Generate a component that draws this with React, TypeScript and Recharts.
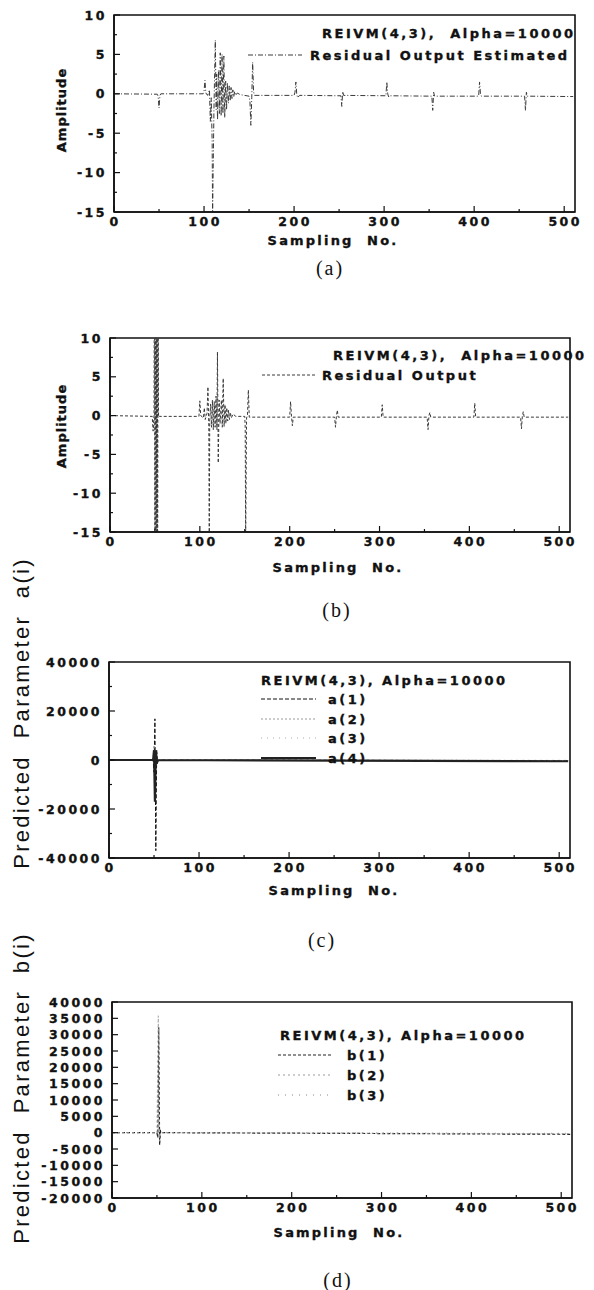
import { LineChart, Line, XAxis, YAxis, ReferenceArea, Legend } from 'recharts';

type Pt = [number, number];

// sample axis (shared by all four panels)
const sampleTicks = [0, 50, 100, 150, 200, 250, 300, 350, 400, 450, 500];
const sampleLabels = [0, 100, 200, 300, 400, 500];

// amplitude axis, panels (a) and (b)
const ampTicks = [-15, -12.5, -10, -7.5, -5, -2.5, 0, 2.5, 5, 7.5, 10];
const ampLabels = [-15, -10, -5, 0, 5, 10];

// parameter axes, panels (c) and (d)
const aTicks = [-40000, -30000, -20000, -10000, 0, 10000, 20000, 30000, 40000];
const aLabels = [-40000, -20000, 0, 20000, 40000];
const bTicks = [-20000, -15000, -10000, -5000, 0, 5000, 10000, 15000, 20000, 25000, 30000, 35000, 40000];

// (a) residual output estimated
const residualEstimated: Pt[] = [
  [0, 0], [48, -0.05], [49, -0.3], [50, -1.8], [51, -0.2], [52, 0], [99, 0], [100, 0.3], [101, 1.7], [102, 0.1],
  [104, -0.2], [106, 0.5], [107, -3.5], [108, -0.5], [109, -6], [109.5, -15.5], [111, -2], [112.5, 6.8], [113.5, -2],
  [114, 2.5], [115, -3.3], [116, 3], [117, -2.5], [118, 5.2], [119, -2.8], [120, 5], [121, -2.5], [122, 4.8],
  [123, -3], [124, 1.6], [125, -2], [126, 1.4], [127, -1.2], [128, 1], [129, -0.9], [130, 0.8], [131, -0.6],
  [132, 0.5], [133, -0.4], [134, 0.3], [135, -0.2], [137, 0.1], [140, -0.1], [145, -0.2], [150, -0.3], [151, -1],
  [152, -4], [153, -0.5], [154, 4], [155, 0.3], [156, -0.2], [200, -0.2], [201, 0.2], [202, 1.5], [203, -0.1],
  [204, -0.5], [206, -0.2], [252, -0.25], [253, -1.6], [254, 0.3], [255, -0.2], [302, -0.25], [303, 1.5], [304, 0],
  [305, -0.4], [306, -0.25], [353, -0.3], [354, -2.1], [355, 0.2], [356, -0.3], [405, -0.3], [406, 1.5], [407, 0],
  [408, -0.3], [456, -0.3], [457, -2.1], [458, 0.2], [459, -0.3], [510, -0.35],
];

// (b) residual output
const residualOutput: Pt[] = [
  [0, 0], [47, -0.1], [48, -2], [49, 0], [49.5, 30], [50, -30], [50.5, 30], [51, -30], [51.5, 30], [52, -30],
  [52.5, 30], [53, -30], [53.5, 30], [54, -0.2], [55, -0.1], [99, -0.1], [100, 1.9], [101, 0], [104, -0.3],
  [105, 1], [106, -0.5], [108, 0.3], [109, 3.7], [110, -1.5], [110.5, -16], [111, -0.5], [112, 1.5], [113, -1.5],
  [114, 2], [115, -1.8], [116, 1.8], [117, -1.5], [118, 2.5], [119, -1.8], [119.6, 8.2], [120.5, -6.1],
  [121.5, 2], [122.5, -1], [124, 2], [125, -1.5], [126, 4.8], [127, -1.4], [128, 1.4], [129, -1], [130, 1],
  [131, -0.7], [132, 0.7], [133, -0.5], [134, 0.4], [135, -0.3], [137, 0.2], [140, -0.1], [150, -0.1],
  [150.5, -1.5], [151, -16], [152, -0.3], [153, 0], [154, 3.3], [155, -0.2], [200, -0.2], [201, 1.8], [202, -0.1],
  [203, -1.3], [204, -0.2], [250, -0.2], [251, -1.5], [252, -0.1], [253, 0.7], [254, -0.2], [302, -0.2],
  [303, 1.4], [304, -0.2], [353, -0.2], [354, -1.8], [355, 0], [356, 0.4], [357, -0.2], [405, -0.2], [406, 1.6],
  [407, -0.2], [457, -0.2], [458, -1.7], [459, 0], [460, 0.5], [461, -0.2], [510, -0.2],
];

// (c) predicted parameters a(i)
const paramA1: Pt[] = [[0, 0], [49, 0], [50, -5000], [51, 16800], [52, -37000], [53, 4000], [54, -1000], [55, 0], [510, -300]];
const paramA2: Pt[] = [[0, 0], [49, 0], [50, 6000], [51, -10000], [52, 3000], [53, 0], [510, -200]];
const paramA3: Pt[] = [[0, 0], [50, 0], [51, -4000], [52, 1500], [53, 0], [510, -100]];
const paramA4: Pt[] = [[0, 0], [49, 0], [50, 4000], [51, -17000], [52, 4000], [53, -1500], [54, 0], [510, -500]];

// (d) predicted parameters b(i)
const paramB1: Pt[] = [[0, 0], [50, 0], [51, -1500], [52, 32300], [53, -3800], [54, 500], [55, 0], [510, -500]];
const paramB2: Pt[] = [[0, 0], [50, 0], [51.5, 35800], [52.5, -1500], [54, 0], [510, -300]];
const paramB3: Pt[] = [[0, 0], [51, 0], [52, 3000], [53, -2000], [54, 0], [510, -200]];

const TM = 6;
const tickFont = {
  fontFamily: 'DejaVu Sans', fontWeight: 700, fontSize: 12.5, letterSpacing: 2.5,
  fill: '#111', stroke: '#111', strokeWidth: 0.35,
};
const legendFont = { ...tickFont, fontSize: 13, whiteSpace: 'pre' as const };
const bigFont = { fontFamily: 'Liberation Sans', fontSize: 22, letterSpacing: 2.3, fill: '#111', whiteSpace: 'pre' as const };

const toRows = (pts: Pt[]) => pts.map(([x, y]) => ({ x, y }));

const makeXTick = (labels: number[]) => (p: any) => {
  const axisY = p.y - TM;
  const major = labels.includes(p.payload.value);
  return (
    <g>
      <line x1={p.x} x2={p.x} y1={axisY} y2={axisY - (major ? 6 : 3)} stroke="#111" strokeWidth={1.2} />
      {major && (
        <text x={p.x + 1} y={axisY + 14} textAnchor="middle" style={tickFont}>{p.payload.value}</text>
      )}
    </g>
  );
};

const makeYTick = (labels: number[]) => (p: any) => {
  const axisX = p.x + TM;
  const major = labels.includes(p.payload.value);
  return (
    <g>
      <line x1={axisX} x2={axisX + (major ? 6 : 3)} y1={p.y} y2={p.y} stroke="#111" strokeWidth={1.2} />
      {major && (
        <text x={axisX - 7} y={p.y} dy={4.5} textAnchor="end" style={tickFont}>{p.payload.value}</text>
      )}
    </g>
  );
};

const panels = [
  {
    key: 'a', top: 0, height: 260, margin: { top: 15, right: 19, bottom: 18, left: 54 },
    yDomain: [-15, 10], yTicks: ampTicks, yLabels: ampLabels,
    yTitle: { text: 'Amplitude', x: 61, y: 110, big: false },
    xTitle: { x: 333, y: 240 },
    legend: { title: 'REIVM(4,3),  Alpha=10000', titleX: 322, titleY: 33, lineX1: 248, lineX2: 302, textX: 310, rowY: [55] },
    series: [{ label: 'Residual Output Estimated', data: residualEstimated, stroke: '#3a3a3a', dash: '5 2 1 2', width: 1 }],
    caption: { text: '(a)', x: 330, y: 268 },
  },
  {
    key: 'b', top: 290, height: 300, margin: { top: 48, right: 24, bottom: 28, left: 50 },
    yDomain: [-15, 10], yTicks: ampTicks, yLabels: ampLabels,
    yTitle: { text: 'Amplitude', x: 61, y: 136, big: false },
    xTitle: { x: 338, y: 277 },
    legend: { title: 'REIVM(4,3),  Alpha=10000', titleX: 333, titleY: 65, lineX1: 262, lineX2: 315, textX: 322, rowY: [85] },
    series: [{ label: 'Residual Output', data: residualOutput, stroke: '#3a3a3a', dash: '3 2', width: 1 }],
    caption: { text: '(b)', x: 337, y: 610 },
  },
  {
    key: 'c', top: 540, height: 380, margin: { top: 122, right: 24, bottom: 32, left: 49 },
    yDomain: [-40000, 40000], yTicks: aTicks, yLabels: aLabels,
    yTitle: { text: 'Predicted  Parameter  a(i)', x: 21, y: 173, big: true },
    xTitle: { x: 334, y: 350 },
    legend: { title: 'REIVM(4,3), Alpha=10000', titleX: 261, titleY: 140, lineX1: 261, lineX2: 316, textX: 328, rowY: [159, 179, 198, 218] },
    series: [
      { label: 'a(1)', data: paramA1, stroke: '#111', dash: '4 2', width: 1 },
      { label: 'a(2)', data: paramA2, stroke: '#999', dash: '2 2', width: 1 },
      { label: 'a(3)', data: paramA3, stroke: '#aaa', dash: '1 5', width: 1 },
      { label: 'a(4)', data: paramA4, stroke: '#222', dash: undefined, width: 2.2 },
    ],
    caption: { text: '(c)', x: 322, y: 940 },
  },
  {
    key: 'd', top: 900, height: 355, margin: { top: 102, right: 22, bottom: 27, left: 52 },
    yDomain: [-20000, 40000], yTicks: bTicks, yLabels: bTicks,
    yTitle: { text: 'Predicted  Parameter  b(i)', x: 21, y: 188, big: true },
    xTitle: { x: 339, y: 332 },
    legend: { title: 'REIVM(4,3), Alpha=10000', titleX: 280, titleY: 135, lineX1: 278, lineX2: 333, textX: 347, rowY: [155, 175, 195] },
    series: [
      { label: 'b(1)', data: paramB1, stroke: '#222', dash: '3 2', width: 1.2 },
      { label: 'b(2)', data: paramB2, stroke: '#999', dash: '2 3', width: 1 },
      { label: 'b(3)', data: paramB3, stroke: '#888', dash: '1 6', width: 1 },
    ],
    caption: { text: '(d)', x: 338, y: 1280 },
  },
];

function Panel({ cfg }: { cfg: (typeof panels)[number] }) {
  const { legend, yTitle, xTitle } = cfg;
  return (
    <div style={{ position: 'absolute', left: 0, top: cfg.top }}>
      <LineChart width={594} height={cfg.height} margin={cfg.margin}>
        <XAxis
          type="number" dataKey="x" domain={[0, 512]} allowDataOverflow ticks={sampleTicks} interval={0}
          height={30} tickSize={0} tickMargin={TM} tickLine={false} tick={makeXTick(sampleLabels)}
          axisLine={{ stroke: '#111', strokeWidth: 1.5 }}
          label={{
            content: () => (
              <text x={xTitle.x} y={xTitle.y} textAnchor="middle" dominantBaseline="central" style={{ ...tickFont, fontSize: 13, letterSpacing: 2.2, whiteSpace: 'pre' }}>
                {'Sampling  No.'}
              </text>
            ),
          }}
        />
        <YAxis
          type="number" domain={cfg.yDomain} allowDataOverflow ticks={cfg.yTicks} interval={0}
          width={60} tickSize={0} tickMargin={TM} tickLine={false} tick={makeYTick(cfg.yLabels)}
          axisLine={{ stroke: '#111', strokeWidth: 1.5 }}
          label={{
            content: () => (
              <text
                x={yTitle.x} y={yTitle.y} textAnchor="middle" dominantBaseline="central"
                transform={`rotate(-90 ${yTitle.x} ${yTitle.y})`}
                style={yTitle.big ? bigFont : { ...tickFont, fontSize: 13, letterSpacing: 1 }}
              >
                {yTitle.text}
              </text>
            ),
          }}
        />
        <ReferenceArea x1={0} x2={512} y1={cfg.yDomain[0]} y2={cfg.yDomain[1]} fill="none" stroke="#111" strokeWidth={1.6} ifOverflow="visible" />
        {cfg.series.map((s) => (
          <Line
            key={s.label} data={toRows(s.data)} dataKey="y" name={s.label} type="linear" dot={false} activeDot={false}
            stroke={s.stroke} strokeWidth={s.width} strokeDasharray={s.dash} isAnimationActive={false}
          />
        ))}
        <Legend
          verticalAlign="middle" align="center" layout="horizontal"
          wrapperStyle={{ left: 0, top: 0, width: 594, height: cfg.height, pointerEvents: 'none' }}
          content={() => (
            <svg width={594} height={cfg.height} style={{ display: 'block', overflow: 'visible' }}>
              <text x={legend.titleX} y={legend.titleY} dominantBaseline="central" style={legendFont}>{legend.title}</text>
              {cfg.series.map((s, i) => (
                <g key={s.label}>
                  <line
                    x1={legend.lineX1} x2={legend.lineX2} y1={legend.rowY[i]} y2={legend.rowY[i]}
                    stroke={s.stroke} strokeWidth={s.width} strokeDasharray={s.dash}
                  />
                  <text x={legend.textX} y={legend.rowY[i]} dominantBaseline="central" style={legendFont}>{s.label}</text>
                </g>
              ))}
            </svg>
          )}
        />
      </LineChart>
    </div>
  );
}

export default function App() {
  return (
    <div style={{ position: 'absolute', left: 0, top: 0, width: 594, height: 1290, background: '#fff' }}>
      {panels.map((cfg) => (
        <Panel key={cfg.key} cfg={cfg} />
      ))}
      {panels.map((cfg) => (
        <div
          key={`cap-${cfg.key}`}
          style={{
            position: 'absolute', left: cfg.caption.x, top: cfg.caption.y, transform: 'translate(-50%, -50%)',
            fontFamily: 'Liberation Serif', fontSize: 20, letterSpacing: 2, color: '#111', whiteSpace: 'nowrap',
          }}
        >
          {cfg.caption.text}
        </div>
      ))}
    </div>
  );
}
